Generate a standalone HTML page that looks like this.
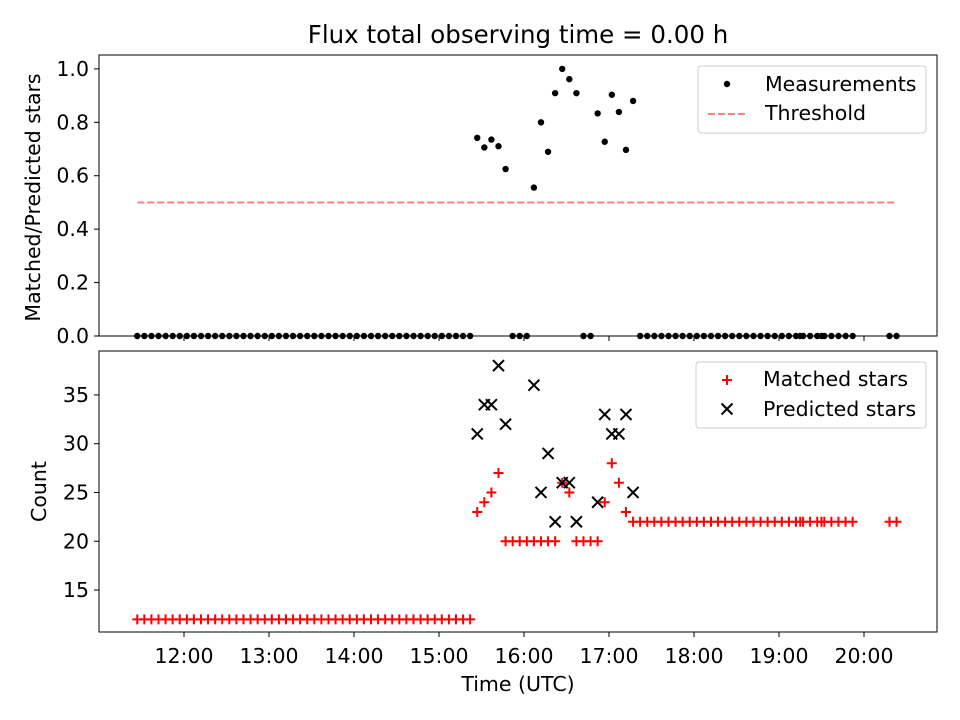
<!DOCTYPE html>
<html><head><meta charset="utf-8"><style>
body{margin:0;background:#fff}
svg{display:block;font-family:"DejaVu Sans","Liberation Sans",sans-serif}
</style></head><body>
<svg id="fig" width="960" height="720" viewBox="0 0 960 720">
<text x="518" y="43" text-anchor="middle" font-size="24.5" fill="#000">Flux total observing time = 0.00 h</text>
</svg>
<script>
// time in minutes since midnight UTC
const times=[687,692,697,702,707,712,717,722,727,732,737,742,747,752,757,762,767,772,777,782,787,792,797,802,807,812,817,822,827,832,837,842,847,852,857,862,867,872,877,882,887,892,897,902,907,912,917,922,927,932,937,942,947,952,957,962,967,972,977,982,987,992,997,1002,1007,1012,1017,1022,1027,1032,1037,1042,1047,1052,1057,1062,1067,1072,1077,1082,1087,1092,1097,1102,1107,1112,1117,1122,1127,1132,1137,1142,1147,1152,1157,1162,1167,1172,1177,1182,1187,1192,1155,1170,1218,1223];
const matched=[12,12,12,12,12,12,12,12,12,12,12,12,12,12,12,12,12,12,12,12,12,12,12,12,12,12,12,12,12,12,12,12,12,12,12,12,12,12,12,12,12,12,12,12,12,12,12,12,23,24,25,27,20,20,20,20,20,20,20,20,26,25,20,20,20,20,24,28,26,23,22,22,22,22,22,22,22,22,22,22,22,22,22,22,22,22,22,22,22,22,22,22,22,22,22,22,22,22,22,22,22,22,22,22,22,22];
const predicted=[null,null,null,null,null,null,null,null,null,null,null,null,null,null,null,null,null,null,null,null,null,null,null,null,null,null,null,null,null,null,null,null,null,null,null,null,null,null,null,null,null,null,null,null,null,null,null,null,31,34,34,38,32,null,null,null,36,25,29,22,26,26,22,null,null,24,33,31,31,33,25,null,null,null,null,null,null,null,null,null,null,null,null,null,null,null,null,null,null,null,null,null,null,null,null,null,null,null,null,null,null,null,null,null,null,null];
const threshold=0.5;
const xTickLabels=["12:00","13:00","14:00","15:00","16:00","17:00","18:00","19:00","20:00"];
const xTickHours=[12,13,14,15,16,17,18,19,20];
const topTicks=[0,0.2,0.4,0.6,0.8,1.0];
const botTicks=[15,20,25,30,35];

const NS="http://www.w3.org/2000/svg";
const svg=document.getElementById('fig');
const FS=20.5;
function mk(tag,at,parent){const e=document.createElementNS(NS,tag);for(const k in at)e.setAttribute(k,at[k]);(parent||svg).appendChild(e);return e;}
const L=99,R=937;
const xs=h=>L+(h-11)/(20.859-11)*(R-L);
const xm=m=>xs(m/60);
const T0=55,T1=336,B0=351,B1=632;
const yTop=v=>T1-(v-0)/(1.052-0)*(T1-T0);
const yBot=v=>B1-(v-10.7)/(39.5-10.7)*(B1-B0);
const ratio=matched.map((m,i)=>predicted[i]?m/predicted[i]:0);

let f=mk('rect',{x:L,y:T0,width:R-L,height:T1-T0,fill:'none',stroke:'#000','stroke-width':1});


f=mk('rect',{x:L,y:B0,width:R-L,height:B1-B0,fill:'none',stroke:'#000','stroke-width':1});



xTickHours.forEach((h,i)=>{
  const x=xs(h);
  let t=mk('line',{x1:x,x2:x,y1:T1,y2:T1+5,stroke:'#000'});
  
  
  t=mk('line',{x1:x,x2:x,y1:B1,y2:B1+5,stroke:'#000'});
  
  
  const lb=mk('text',{x:x,y:B1+31,'text-anchor':'middle','font-size':FS});
  lb.textContent=xTickLabels[i];
  
  
});
topTicks.forEach(v=>{
  const y=yTop(v);
  const t=mk('line',{x1:L-5,x2:L,y1:y,y2:y,stroke:'#000'});
  
  
  const lb=mk('text',{x:L-10,y:y+7,'text-anchor':'end','font-size':FS});
  lb.textContent=v.toFixed(1);
  
  
});
botTicks.forEach(v=>{
  const y=yBot(v);
  const t=mk('line',{x1:L-5,x2:L,y1:y,y2:y,stroke:'#000'});
  
  
  const lb=mk('text',{x:L-10,y:y+7,'text-anchor':'end','font-size':FS});
  lb.textContent=String(v);
  
  
});
let a=mk('text',{x:518,y:691,'text-anchor':'middle','font-size':FS});
a.textContent='Time (UTC)';


a=mk('text',{x:0,y:0,'text-anchor':'middle','font-size':FS,transform:`translate(40,${(T0+T1)/2+2}) rotate(-90)`});
a.textContent='Matched/Predicted stars';


a=mk('text',{x:0,y:0,'text-anchor':'middle','font-size':FS,transform:`translate(46,${(B0+B1)/2}) rotate(-90)`});
a.textContent='Count';



const tmin=Math.min(...times),tmax=Math.max(...times);
let th=mk('line',{x1:xm(tmin),x2:xm(tmax),y1:yTop(threshold),y2:yTop(threshold),stroke:'#ff7f7f','stroke-width':2,'stroke-dasharray':'7,3'});



times.forEach((t,i)=>{
  const c=mk('circle',{cx:xm(t),cy:yTop(ratio[i]),r:3.2,fill:'#000'});
  
  
});
function plus(x,y,col,name){const g=mk('path',{d:`M${x-5},${y}H${x+5}M${x},${y-5}V${y+5}`,stroke:col,'stroke-width':2,fill:'none'});return g;}
function cross(x,y,col,name){const g=mk('path',{d:`M${x-5.5},${y-5.5}L${x+5.5},${y+5.5}M${x-5.5},${y+5.5}L${x+5.5},${y-5.5}`,stroke:col,'stroke-width':2,fill:'none'});return g;}
times.forEach((t,i)=>{plus(xm(t),yBot(matched[i]),'#ff0000','matched-star-point');});
times.forEach((t,i)=>{if(predicted[i]!=null)cross(xm(t),yBot(predicted[i]),'#000','predicted-star-point');});

let lg=mk('rect',{x:698,y:66,width:228,height:67,rx:3,fill:'#fff',stroke:'#ccc'});


let m=mk('circle',{cx:727,cy:84,r:3.2,fill:'#000'});


let tx=mk('text',{x:765,y:91,'font-size':FS});tx.textContent='Measurements';


m=mk('line',{x1:708,x2:748,y1:114,y2:114,stroke:'#ff7f7f','stroke-width':2,'stroke-dasharray':'7,3'});


tx=mk('text',{x:765,y:120,'font-size':FS});tx.textContent='Threshold';



lg=mk('rect',{x:696,y:362,width:230,height:66,rx:3,fill:'#fff',stroke:'#ccc'});


plus(727,380,'#ff0000','legend-matched-marker');
tx=mk('text',{x:763,y:386,'font-size':FS});tx.textContent='Matched stars';


cross(727,409,'#000','legend-predicted-marker');
tx=mk('text',{x:763,y:416,'font-size':FS});tx.textContent='Predicted stars';


</script>
</body></html>
